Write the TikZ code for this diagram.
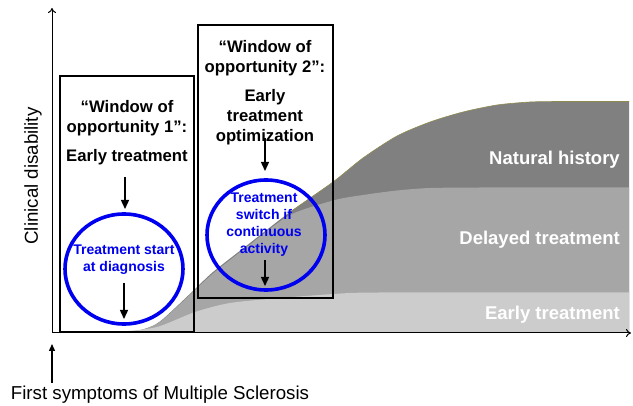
\documentclass[tikz,border=0pt]{standalone}
\usepackage{fontspec}
\setmainfont{Liberation Sans}
\usetikzlibrary{arrows.meta}
\definecolor{natgray}{HTML}{808080}
\definecolor{delgray}{HTML}{A6A6A6}
\definecolor{earlygray}{HTML}{CCCCCC}
\definecolor{circblue}{HTML}{0000F0}
\tikzset{
  boxframe/.style={draw=black, line width=1.8pt},
  circframe/.style={draw=circblue, line width=3.6pt},
  titletext/.style={font=\bfseries\fontsize{16.7}{20}\selectfont, align=center, inner sep=0pt},
  bluetext/.style={font=\bfseries\fontsize{14}{17}\selectfont, text=circblue, align=center, inner sep=0pt},
  regionlabel/.style={font=\bfseries\fontsize{18.5}{22}\selectfont, text=white, anchor=east, inner sep=0pt},
  axistext/.style={font=\fontsize{18.7}{22}\selectfont, inner sep=0pt},
  downarrow/.style={line width=1.4pt, -{Triangle[length=9pt,width=8pt]}},
  axisline/.style={line width=1pt, -{To[length=5pt,width=8pt]}},
}
\begin{document}
\begin{tikzpicture}[x=1pt,y=-1pt]
\useasboundingbox (0,0) rectangle (633,406);
% regions
\fill[natgray] plot[smooth, tension=0.45] coordinates {(58,333) (130,331.5) (150,327) (163,319) (193,291) (213,272) (250,243) (290,212) (333,182) (363,158) (397,136) (430,122) (463,112) (497,105) (530,102) (560,101.5)} -- (629,101.5) -- (629,333) -- (58,333) -- cycle;
\draw[draw=olive!45!gray, line width=0.6pt] plot[smooth, tension=0.45] coordinates {(290,212) (333,182) (363,158) (397,136) (430,122) (463,112) (497,105) (530,102) (560,101.5)} -- (629,101.5);
\fill[delgray] plot[smooth, tension=0.45] coordinates {(58,333) (130,331.5) (150,327) (163,319.5) (193,292) (213,273.5) (250,244.5) (290,215) (335,200) (363,195) (397,190.5) (430,188) (480,187.5)} -- (629,187.5) -- (629,333) -- (58,333) -- cycle;
\fill[earlygray] plot[smooth, tension=0.45] coordinates {(58,333) (120,331.5) (157,327) (195,312) (230,303) (280,298) (350,293) (400,292.5)} -- (629,292.5) -- (629,333) -- (58,333) -- cycle;
% axes
\coordinate (O) at (52,333);
\coordinate (Ytop) at (52,8);
\coordinate (Xend) at (631,333);
\draw[axisline] (O) -- (Ytop);
\draw[axisline] (O) -- (Xend);
\coordinate (FSbot) at (52,383);
\coordinate (FStop) at (52,344);
\draw[line width=1.4pt, -{Triangle[length=7pt,width=6pt]}] (FSbot) -- (FStop);
\node[axistext] (fs) at (160,395) {First symptoms of Multiple Sclerosis};
\node[axistext, rotate=90] (cd) at (33,176) {Clinical disability};
% region labels
\node[regionlabel] (nh) at (620,160) {Natural history};
\node[regionlabel] (dt) at (620,240) {Delayed treatment};
\node[regionlabel] (et) at (620,315) {Early treatment};
% boxes
\draw[boxframe] (60,76) rectangle (194,332);
\draw[boxframe] (198,25) rectangle (333,298);
% circles
\draw[circframe] (124,269) ellipse [x radius=59, y radius=55];
\draw[circframe] (266,235) ellipse [x radius=59, y radius=55];
% box 1 texts
\node[titletext] (w1) at (127,118) {“Window of\\opportunity 1”:};
\node[titletext] (e1) at (127,157) {Early treatment};
\coordinate (a1s) at (125,177);
\coordinate (a1e) at (125,209);
\draw[downarrow] (a1s) -- (a1e);
\node[bluetext] (c1) at (124,260) {Treatment start\\at diagnosis};
\coordinate (b1s) at (124,283);
\coordinate (b1e) at (124,319);
\draw[downarrow] (b1s) -- (b1e);
% box 2 texts
\node[titletext] (w2) at (265,58) {“Window of\\opportunity 2”:};
\node[titletext] (e2) at (265,117) {Early\\treatment\\optimization};
\coordinate (a2s) at (265,138);
\coordinate (a2e) at (265,171);
\draw[downarrow] (a2s) -- (a2e);
\node[bluetext] (c2) at (264,225) {Treatment\\switch if\\continuous\\activity};
\coordinate (b2s) at (265,260);
\coordinate (b2e) at (265,286);
\draw[downarrow] (b2s) -- (b2e);
\end{tikzpicture}
\end{document}
